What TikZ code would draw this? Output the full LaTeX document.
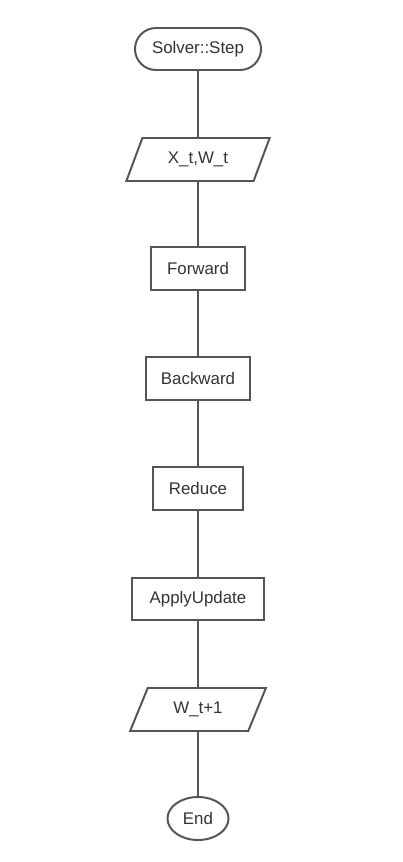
\documentclass[tikz,border=0pt]{standalone}
\usepackage{fontspec}
\setmainfont{Liberation Sans}
\usetikzlibrary{shapes.geometric,shapes.misc}
\definecolor{linegray}{HTML}{555555}
\definecolor{textgray}{HTML}{333333}

\begin{document}
\begin{tikzpicture}[x=0.025cm,y=-0.025cm,
		every node/.style={font=\fontsize{12}{14}\selectfont, text=textgray,
			draw=linegray, line width=1.4pt, fill=white, inner sep=0pt},
		terminal/.style={rounded rectangle, minimum height=1.05cm},
		io/.style={trapezium, trapezium left angle=60, trapezium right angle=120,
			trapezium stretches=true, minimum height=1.075cm},
		proc/.style={rectangle, minimum height=1.075cm},
		flow/.style={draw=linegray, line width=1.4pt}]
		
		% page frame
		\useasboundingbox (0,0) rectangle (402,862);
		
		% main column
		\node[terminal, minimum width=3.15cm] (start) at (198,49) {Solver::Step};
		\node[io, minimum width=3.6cm] (input) at (198,159.5) {X\_t,W\_t};
		\node[proc, minimum width=2.35cm] (fwd) at (198,268.5) {Forward};
		\node[proc, minimum width=2.6cm] (bwd) at (198,378.5) {Backward};
		\node[proc, minimum width=2.25cm] (reduce) at (198,488.5) {Reduce};
		\node[proc, minimum width=3.3cm, minimum height=1.05cm] (apply) at (198,599) {ApplyUpdate};
		\node[io, minimum width=3.4cm] (output) at (198,709.5) {W\_t+1};
		\node[ellipse, minimum width=1.525cm, minimum height=1.075cm] (stop) at (198,818.5) {End};
		
		% connectors
		\draw[flow] (start) -- (input);
		\draw[flow] (input) -- (fwd);
		\draw[flow] (fwd) -- (bwd);
		\draw[flow] (bwd) -- (reduce);
		\draw[flow] (reduce) -- (apply);
		\draw[flow] (apply) -- (output);
		\draw[flow] (output) -- (stop);
		
	\end{tikzpicture}
\end{document}
